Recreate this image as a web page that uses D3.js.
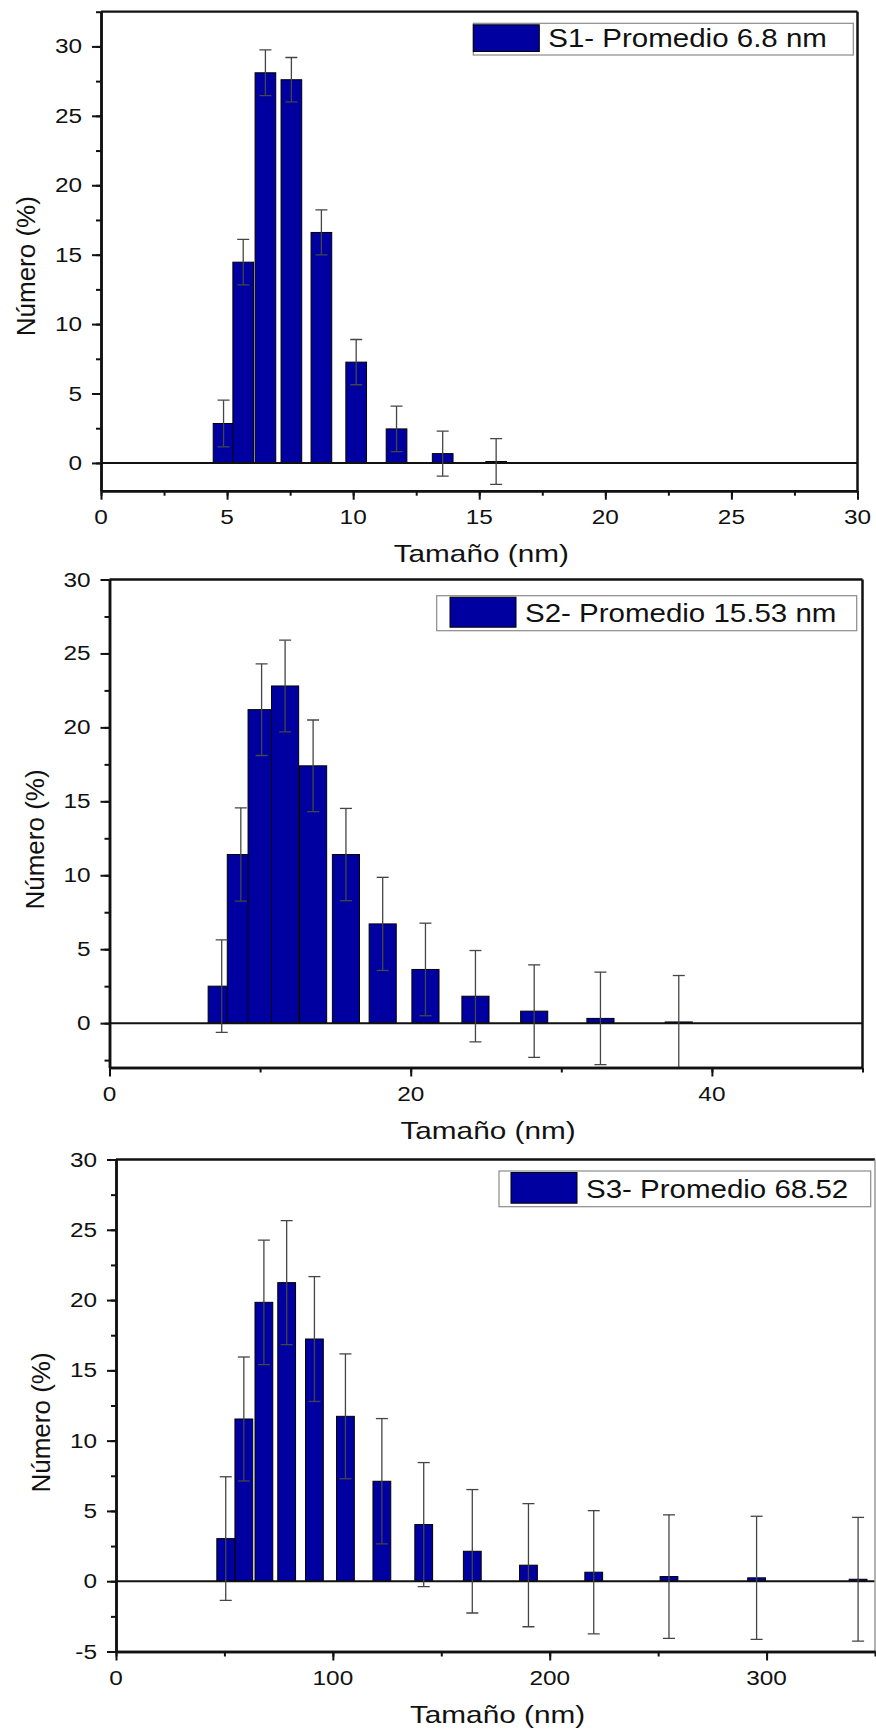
<!DOCTYPE html>
<html>
<head>
<meta charset="utf-8">
<script src="https://cdn.jsdelivr.net/npm/d3@7/dist/d3.min.js"></script>
<style>
  html, body { margin: 0; padding: 0; background: #fff; }
  svg { display: block; }
  text { font-family: "Liberation Sans", Arial, Helvetica, sans-serif; fill: #111; }
</style>
</head>
<body>
<svg id="fig" width="876" height="1731"></svg>
<script>
// Size distributions (number %) with error bars, three samples
const s1Size = [4.86, 5.64, 6.52, 7.55, 8.74, 10.12, 11.72, 13.55, 15.67];
const s1Num  = [2.84, 14.46, 28.1, 27.6, 16.6, 7.26, 2.45, 0.67, 0.1];
const s1Err  = [1.68, 1.64, 1.65, 1.6, 1.62, 1.63, 1.64, 1.62, 1.65];

const s2Size = [7.45, 8.72, 10.1, 11.66, 13.52, 15.7, 18.14, 20.98, 24.3, 28.2, 32.6, 37.8];
const s2Num  = [2.5, 11.4, 21.2, 22.8, 17.4, 11.4, 6.71, 3.63, 1.82, 0.81, 0.32, 0.08];
const s2Err  = [3.13, 3.15, 3.1, 3.1, 3.1, 3.12, 3.15, 3.13, 3.09, 3.13, 3.13, 3.14];

const s3Size = [50.6, 58.95, 68.2, 78.7, 91.5, 105.8, 122.6, 141.9, 164.3, 190.2, 220.3, 255, 295.4, 342.2];
const s3Num  = [3.03, 11.54, 19.84, 21.24, 17.23, 11.73, 7.11, 4.03, 2.13, 1.14, 0.64, 0.33, 0.24, 0.14];
const s3Err  = [4.4, 4.41, 4.43, 4.41, 4.44, 4.44, 4.46, 4.41, 4.39, 4.38, 4.38, 4.39, 4.38, 4.4];

const legendLabels = ["S1- Promedio 6.8 nm", "S2- Promedio 15.53 nm", "S3- Promedio 68.52"];

const xTickLabels1 = [0, 5, 10, 15, 20, 25, 30];
const xTickLabels2 = [0, 20, 40];
const xTickLabels3 = [0, 100, 200, 300];
const yTickLabels12 = [0, 5, 10, 15, 20, 25, 30];
const yTickLabels3 = [-5, 0, 5, 10, 15, 20, 25, 30];

const xTitle = "Tamaño (nm)";
const yTitle = "Número (%)";

const BAR_FILL = "#0000a0";

const panels = [
  { size: s1Size, num: s1Num, err: s1Err, label: legendLabels[0],
    left: 101, right: 857.5, top: 11.7, bottom: 490.7,
    xDom: [0, 30], yDom: [-2, 32.5], barW: 0.82,
    xMajor: xTickLabels1, xMinorStep: 2.5, yMajor: yTickLabels12, yMinorStep: 2.5,
    legend: { x0: 473.3, y0: 23.3, x1: 853.3, y1: 55, sw: 0, base: 47.3 },
    yTitleX: 35, yTitleShift: 15, rightStyle: { c: "#111", w: 2.5 } },
  { size: s2Size, num: s2Num, err: s2Err, label: legendLabels[1],
    left: 109.5, right: 862.5, top: 579.5, bottom: 1067.5,
    xDom: [0, 50], yDom: [-3, 30], barW: 1.8,
    xMajor: xTickLabels2, xMinorStep: 10, yMajor: yTickLabels12, yMinorStep: 2.5,
    legend: { x0: 436.7, y0: 595.7, x1: 856.7, y1: 630.7, sw: 13.3, base: 622.3 },
    yTitleX: 43.5, yTitleShift: 16, rightStyle: { c: "#111", w: 2.5 } },
  { size: s3Size, num: s3Num, err: s3Err, label: legendLabels[2],
    left: 116, right: 875, top: 1159.5, bottom: 1651.5,
    xDom: [0, 350], yDom: [-5, 30], barW: 8.2,
    xMajor: xTickLabels3, xMinorStep: 50, yMajor: yTickLabels3, yMinorStep: 2.5,
    legend: { x0: 499, y0: 1171, x1: 870.7, y1: 1206.7, sw: 12, base: 1198.3 },
    yTitleX: 50, yTitleShift: 17, rightStyle: { c: "#9a9a9a", w: 1.5 } }
];

const svg = d3.select("#fig");

// text with a horizontal stretch along its own direction
function label(g, x, y, txt, size, sx, anchor, rot) {
  return g.append("text")
    .attr("transform", `translate(${x},${y})` + (rot ? ` rotate(${rot})` : "") + ` scale(${sx},1)`)
    .attr("text-anchor", anchor)
    .style("font-size", size + "px")
    .text(txt);
}

function minorValues(dom, step) {
  const out = [];
  const start = Math.ceil(dom[0] / step) * step;
  for (let v = start; v <= dom[1] + 1e-9; v += step) out.push(+v.toFixed(6));
  return out;
}

panels.forEach((p, i) => {
  const g = svg.append("g");
  const x = d3.scaleLinear().domain(p.xDom).range([p.left, p.right]);
  const y = d3.scaleLinear().domain(p.yDom).range([p.bottom, p.top]);

  const clipId = "clip" + i;
  svg.append("clipPath").attr("id", clipId).append("rect")
    .attr("x", p.left).attr("y", p.top)
    .attr("width", p.right - p.left).attr("height", p.bottom - p.top);

  const plot = g.append("g").attr("clip-path", `url(#${clipId})`);

  const rows = p.size.map((s, k) => ({ s, v: p.num[k], e: p.err[k] }));

  // bars
  plot.selectAll("rect.bar").data(rows).join("rect")
    .attr("class", "bar")
    .attr("x", d => x(d.s - p.barW / 2))
    .attr("width", d => x(d.s + p.barW / 2) - x(d.s - p.barW / 2))
    .attr("y", d => y(Math.max(d.v, 0)))
    .attr("height", d => Math.abs(y(0) - y(d.v)))
    .attr("fill", BAR_FILL)
    .attr("stroke", "#000")
    .attr("stroke-width", 1);

  // zero line
  plot.append("line")
    .attr("x1", p.left).attr("x2", p.right)
    .attr("y1", y(0)).attr("y2", y(0))
    .attr("stroke", "#111").attr("stroke-width", 2);

  // error bars
  const eb = plot.selectAll("g.err").data(rows).join("g").attr("class", "err")
    .attr("stroke", "#454545").attr("stroke-width", 1.3);
  eb.append("line")
    .attr("x1", d => x(d.s)).attr("x2", d => x(d.s))
    .attr("y1", d => y(d.v - d.e)).attr("y2", d => y(d.v + d.e));
  eb.append("line")
    .attr("x1", d => x(d.s) - 6).attr("x2", d => x(d.s) + 6)
    .attr("y1", d => y(d.v + d.e)).attr("y2", d => y(d.v + d.e));
  eb.append("line")
    .attr("x1", d => x(d.s) - 6).attr("x2", d => x(d.s) + 6)
    .attr("y1", d => y(d.v - d.e)).attr("y2", d => y(d.v - d.e));

  // frame (top and right)
  g.append("line").attr("x1", p.left).attr("x2", p.right)
    .attr("y1", p.top).attr("y2", p.top)
    .attr("stroke", "#111").attr("stroke-width", 2.3);
  g.append("line").attr("x1", p.right).attr("x2", p.right)
    .attr("y1", p.top).attr("y2", p.bottom)
    .attr("stroke", p.rightStyle.c).attr("stroke-width", p.rightStyle.w);

  // axes: minor then major ticks
  const styleAxis = sel => {
    sel.selectAll("path.domain").attr("stroke", "#111").attr("stroke-width", 2.5);
    sel.selectAll(".tick line").attr("stroke", "#111").attr("stroke-width", 2);
  };
  g.append("g").attr("transform", `translate(0,${p.bottom})`)
    .call(d3.axisBottom(x).tickValues(minorValues(p.xDom, p.xMinorStep)).tickSize(5).tickSizeOuter(0).tickFormat(""))
    .call(styleAxis);
  g.append("g").attr("transform", `translate(0,${p.bottom})`)
    .call(d3.axisBottom(x).tickValues(p.xMajor).tickSize(9).tickSizeOuter(0).tickFormat(""))
    .call(styleAxis);
  g.append("g").attr("transform", `translate(${p.left},0)`)
    .call(d3.axisLeft(y).tickValues(minorValues(p.yDom, p.yMinorStep)).tickSize(5).tickSizeOuter(0).tickFormat(""))
    .call(styleAxis);
  g.append("g").attr("transform", `translate(${p.left},0)`)
    .call(d3.axisLeft(y).tickValues(p.yMajor).tickSize(9).tickSizeOuter(0).tickFormat(""))
    .call(styleAxis);

  // tick labels
  p.xMajor.forEach(v => label(g, x(v), p.bottom + 33, String(v), 19.5, 1.25, "middle"));
  p.yMajor.forEach(v => label(g, p.left - 19, y(v) + 7, String(v), 19.5, 1.25, "end"));

  // axis titles
  label(g, (p.left + p.right) / 2 + 2, p.bottom + 71, xTitle, 24, 1.24, "middle");
  label(g, p.yTitleX, (p.top + p.bottom) / 2 + p.yTitleShift, yTitle, 25.5, 1.02, "middle", -90);

  // legend
  const L = p.legend;
  g.append("rect").attr("x", L.x0).attr("y", L.y0)
    .attr("width", L.x1 - L.x0).attr("height", L.y1 - L.y0)
    .attr("fill", "#fff").attr("stroke", "#8a8a8a").attr("stroke-width", 1.2);
  g.append("rect").attr("x", L.x0 + L.sw).attr("y", L.y0 + 1.5)
    .attr("width", 66).attr("height", L.y1 - L.y0 - 5)
    .attr("fill", BAR_FILL).attr("stroke", "#000").attr("stroke-width", 1);
  label(g, L.x0 + L.sw + 75, L.base, p.label, 25, 1.18, "start");
});
</script>
</body>
</html>
